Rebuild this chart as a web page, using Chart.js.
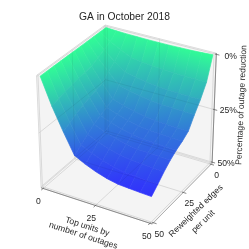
<!DOCTYPE html>
<html>
<head>
<meta charset="utf-8">
<title>GA in October 2018</title>
<script src="https://cdn.jsdelivr.net/npm/chart.js@4"></script>
<style>
  html, body { margin: 0; padding: 0; background: #fff; }
  canvas { display: block; }
</style>
</head>
<body>
<canvas id="surface" width="249" height="249"></canvas>
<script>
// values
const xValues = [0, 5, 10, 15, 20, 25, 30, 35, 40, 45, 50];   // top units
const yValues = [0, 5, 10, 15, 20, 25, 30, 35, 40, 45, 50];   // reweighted edges
// outage reduction in %, one row per yValue
const reduction = [
  [0, 0.3, 0.5, 0.6, 0.7, 0.7, 0.7, 0.6, 0.5, 0.3, 0],
  [0, 3, 5.6, 8, 8.6, 9.2, 9.5, 9.8, 9.9, 10, 10],
  [0, 4.7, 8.7, 12.4, 13.4, 14.2, 14.8, 15.2, 15.3, 15.4, 15.5],
  [0, 6.1, 11.2, 16, 17.3, 18.3, 19.1, 19.6, 19.7, 19.9, 20],
  [0, 7.6, 14, 20, 21.6, 22.9, 23.9, 24.5, 24.7, 24.9, 25],
  [0, 8.2, 15.2, 21.6, 23.3, 24.7, 25.8, 26.5, 26.6, 26.9, 27],
  [0, 8.7, 16, 22.8, 24.6, 26.1, 27.2, 27.9, 28.1, 28.4, 28.5],
  [0, 9.3, 17.1, 24.4, 26.3, 27.9, 29.1, 29.9, 30.1, 30.3, 30.5],
  [0, 10, 18.5, 26.4, 28.5, 30.2, 31.5, 32.3, 32.6, 32.8, 33],
  [0, 10.9, 20.2, 28.8, 31.1, 32.9, 34.3, 35.3, 35.5, 35.8, 36],
  [0, 11.8, 21.8, 31, 33.5, 35.5, 37, 38, 38.3, 38.6, 38.8]
];
const xTicks = [0, 25, 50];
const yTicks = [0, 25, 50];
const zTicks = [0, 25, 50];
const zTickLabels = ["0%", "25%", "50%"];
const titleText = "GA in October 2018";

// axis limits of the box
const XMIN = -1, XMAX = 51, YMIN = -1, YMAX = 51, ZMIN = -0.5, ZMAX = 50.5;
const VMAX = 38.8;

// same camera as a default mplot3d view (elev 30, azim -60, dist 10)
function proj(x, y, z){
  const a = (x - XMIN) / (XMAX - XMIN) - 0.5;
  const b = 0.5 - (y - YMIN) / (YMAX - YMIN);   // y axis runs toward the viewer
  const c = 0.5 - (z - ZMIN) / (ZMAX - ZMIN);   // z axis runs downward
  const d = 10 - (0.433 * a - 0.75 * b + 0.5 * c);
  return { x: (0.866 * a + 0.5 * b) / d, y: (-0.25 * a + 0.433 * b + 0.866 * c) / d };
}

function surfaceColor(z){
  const t = Math.min(z / VMAX, 1);
  const g = Math.round(253 - 204 * t), b = Math.round(150 + 103 * t);
  return `rgb(49,${g},${b})`;
}

const datasets = [];
function add(ds){
  ds.order = -datasets.length;   // first added gets painted first
  ds.pointRadius = 0;
  ds.showLine = true;
  datasets.push(ds);
}
function segment(pts, color, width, extra){
  add(Object.assign({ data: pts.map(p => proj(p[0], p[1], p[2])), borderColor: color, borderWidth: width, fill: false }, extra));
}

// panes
const paneColor = "#f4f4f4", edgeColor = "#dcdcdc";
[
  [[XMIN, YMIN, ZMAX], [XMAX, YMIN, ZMAX], [XMAX, YMAX, ZMAX], [XMIN, YMAX, ZMAX]],
  [[XMIN, YMIN, ZMIN], [XMAX, YMIN, ZMIN], [XMAX, YMIN, ZMAX], [XMIN, YMIN, ZMAX]],
  [[XMIN, YMIN, ZMIN], [XMIN, YMAX, ZMIN], [XMIN, YMAX, ZMAX], [XMIN, YMIN, ZMAX]]
].forEach(q => {
  add({ data: [...q, q[0]].map(p => proj(p[0], p[1], p[2])), backgroundColor: paneColor, borderColor: edgeColor, borderWidth: 1, fill: "shape" });
});

// grid lines on the three back panes
const gridLines = [];
xTicks.forEach(v => {
  gridLines.push([[v, YMIN, ZMAX], [v, YMAX, ZMAX]]);
  gridLines.push([[v, YMIN, ZMIN], [v, YMIN, ZMAX]]);
});
yTicks.forEach(v => {
  gridLines.push([[XMIN, v, ZMAX], [XMAX, v, ZMAX]]);
  gridLines.push([[XMIN, v, ZMIN], [XMIN, v, ZMAX]]);
});
zTicks.forEach(v => {
  gridLines.push([[XMIN, YMIN, v], [XMAX, YMIN, v]]);
  gridLines.push([[XMIN, YMIN, v], [XMIN, YMAX, v]]);
});
gridLines.push([[XMIN, YMIN, ZMIN], [XMIN, YMIN, ZMAX]]);
gridLines.forEach(l => segment(l, "#d2d2d2", 0.8));

// axis lines and tick marks
const axisColor = "#8a8a8a";
segment([[XMIN, YMAX, ZMAX], [XMAX, YMAX, ZMAX]], axisColor, 1);
segment([[XMAX, YMAX, ZMAX], [XMAX, YMIN, ZMAX]], "#b0b0b0", 1);
segment([[XMAX, YMIN, ZMIN], [XMAX, YMIN, ZMAX]], axisColor, 1);
xTicks.forEach(v => segment([[v, YMAX - 0.6, ZMAX], [v, YMAX + 1.4, ZMAX]], "#555", 0.7));
yTicks.forEach(v => segment([[XMAX - 0.6, v, ZMAX], [XMAX + 1.4, v, ZMAX]], "#555", 0.7));
zTicks.forEach(v => segment([[XMAX - 0.6, YMIN, v], [XMAX + 1.4, YMIN, v]], "#555", 0.7));

// surface cells, back corner first
function cellFill(chart, cell){
  const sx = chart.scales.x, sy = chart.scales.y;
  const lo = cell.reduce((m, p) => p[2] < m[2] ? p : m);
  const hi = cell.reduce((m, p) => p[2] > m[2] ? p : m);
  const a = proj(lo[0], lo[1], lo[2]), b = proj(hi[0], hi[1], hi[2]);
  const coords = [sx.getPixelForValue(a.x), sy.getPixelForValue(a.y), sx.getPixelForValue(b.x), sy.getPixelForValue(b.y)];
  if (!coords.every(Number.isFinite)) return surfaceColor(hi[2]);   // scales not laid out yet
  const g = chart.ctx.createLinearGradient(...coords);
  g.addColorStop(0, surfaceColor(lo[2]));
  g.addColorStop(1, surfaceColor(hi[2]));
  return g;
}
for (let j = 0; j < yValues.length - 1; j++){
  for (let i = 0; i < xValues.length - 1; i++){
    const cell = [
      [xValues[i], yValues[j], reduction[j][i]],
      [xValues[i + 1], yValues[j], reduction[j][i + 1]],
      [xValues[i + 1], yValues[j + 1], reduction[j + 1][i + 1]],
      [xValues[i], yValues[j + 1], reduction[j + 1][i]]
    ];
    const fillStyle = ctx => cellFill(ctx.chart, cell);
    add({ data: [...cell, cell[0]].map(p => proj(p[0], p[1], p[2])), backgroundColor: fillStyle, borderColor: fillStyle, borderWidth: 0.7, fill: "shape" });
  }
}

// grid shows faintly through the surface
gridLines.forEach(l => segment(l, "rgba(0,0,0,0.07)", 0.8, { throughSurface: true }));

function surfaceOutline(chart){
  const sx = chart.scales.x, sy = chart.scales.y;
  const n = xValues.length - 1, m = yValues.length - 1;
  const pts = [];
  for (let i = 0; i <= n; i++) pts.push([xValues[i], yValues[0], reduction[0][i]]);
  for (let j = 1; j <= m; j++) pts.push([xValues[n], yValues[j], reduction[j][n]]);
  for (let i = n - 1; i >= 0; i--) pts.push([xValues[i], yValues[m], reduction[m][i]]);
  for (let j = m - 1; j > 0; j--) pts.push([xValues[0], yValues[j], reduction[j][0]]);
  const ctx = chart.ctx;
  ctx.beginPath();
  pts.forEach((p, k) => {
    const q = proj(p[0], p[1], p[2]);
    if (k) ctx.lineTo(sx.getPixelForValue(q.x), sy.getPixelForValue(q.y));
    else ctx.moveTo(sx.getPixelForValue(q.x), sy.getPixelForValue(q.y));
  });
  ctx.closePath();
}

const clipToSurface = {
  id: "clipToSurface",
  beforeDatasetDraw(chart, args){
    if (!chart.data.datasets[args.index].throughSurface) return;
    chart.ctx.save();
    surfaceOutline(chart);
    chart.ctx.clip();
  },
  afterDatasetDraw(chart, args){
    if (chart.data.datasets[args.index].throughSurface) chart.ctx.restore();
  }
};

function label(ctx, text, x, y, deg){
  ctx.save();
  ctx.translate(x, y);
  ctx.rotate(deg * Math.PI / 180);
  ctx.fillText(text, 0, 0);
  ctx.restore();
}

const textLabels = {
  id: "textLabels",
  afterDraw(chart){
    const ctx = chart.ctx;
    ctx.save();
    ctx.fillStyle = "#262626";
    ctx.textAlign = "center";
    ctx.textBaseline = "middle";
    ctx.font = '10.3px "Liberation Sans"';
    label(ctx, titleText, 124.5, 17.5, 0);
    ctx.font = '8.6px "Liberation Sans"';
    [[38.3, 201.7], [91.3, 219], [146.7, 236.7]].forEach((p, i) => label(ctx, String(xTicks[i]), p[0], p[1], 0));
    [[216.7, 175.7], [189.3, 204], [159.3, 235]].forEach((p, i) => label(ctx, String(yTicks[i]), p[0], p[1], 0));
    [[230.7, 56.7], [228.3, 111], [226, 163.3]].forEach((p, i) => label(ctx, zTickLabels[i], p[0], p[1], 0));
    label(ctx, "Top units by", 87.3, 226.7, 17.8);
    label(ctx, "number of outages", 83.3, 235.7, 17.8);
    label(ctx, "Reweighted edges", 196, 211, -44);
    label(ctx, "per unit", 203.3, 221.7, -44);
    label(ctx, "Percentage of outage reduction", 241.5, 105, -87.6);
    ctx.restore();
  }
};

new Chart(document.getElementById("surface"), {
  type: "scatter",
  data: { datasets },
  options: {
    responsive: false,
    animation: false,
    events: [],
    layout: { padding: 0 },
    elements: { line: { tension: 0 } },
    plugins: { legend: { display: false }, title: { display: false }, tooltip: { enabled: false } },
    scales: {
      x: { type: "linear", display: false, min: -0.09969, max: 0.09439 },
      y: { type: "linear", display: false, min: -0.09969, max: 0.09439 }
    }
  },
  plugins: [clipToSurface, textLabels]
});
</script>
</body>
</html>
